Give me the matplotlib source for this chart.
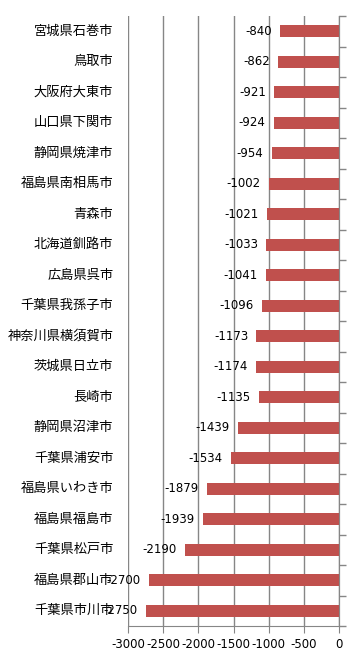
import matplotlib
matplotlib.use("Agg")
import matplotlib.pyplot as plt
import numpy as np

plt.rcParams['font.family'] = ['Noto Sans CJK JP', 'DejaVu Sans']

cities = ["宮城県石巻市", "鳥取市", "大阪府大東市", "山口県下関市", "静岡県焼津市",
          "福島県南相馬市", "青森市", "北海道釧路市", "広島県呉市", "千葉県我孫子市",
          "神奈川県横須賀市", "茨城県日立市", "長崎市", "静岡県沼津市", "千葉県浦安市",
          "福島県いわき市", "福島県福島市", "千葉県松戸市", "福島県郡山市", "千葉県市川市"]
values = [-840, -862, -921, -924, -954, -1002, -1021, -1033, -1041, -1096,
          -1173, -1174, -1135, -1439, -1534, -1879, -1939, -2190, -2700, -2750]
xticks = [-3000, -2500, -2000, -1500, -1000, -500, 0]

fig = plt.figure(figsize=(3.59, 6.6), dpi=100)
ax = fig.add_axes([128/359, 1-626/660, 211/359, 610/660])

n = len(cities)
y = np.arange(n)
bar_color = "#C0504D"
grid_color = "#868686"

ax.barh(y, values, height=0.4, color=bar_color, zorder=3)
ax.set_xlim(-3000, 0)
ax.set_ylim(n - 0.5, -0.5)
ax.set_xticks(xticks)
ax.set_xticklabels([str(t) for t in xticks], fontsize=8.5, family=['DejaVu Sans'])
ax.xaxis.grid(True, color=grid_color, linewidth=1, zorder=0)
ax.set_axisbelow(True)

for s in ['top', 'left']:
    ax.spines[s].set_visible(False)
ax.spines['bottom'].set_color(grid_color)
ax.spines['right'].set_color(grid_color)

ax.tick_params(axis='x', direction='out', length=5, color=grid_color, pad=4)

# category labels on left
ax.set_yticks([])
for i, c in enumerate(cities):
    ax.annotate(c, xy=(0, i), xycoords=('axes fraction', 'data'),
                xytext=(-10.5, 0), textcoords='offset points',
                ha='right', va='center', fontsize=9.5)

# right side ticks at category boundaries
ax2 = ax.twinx()
ax2.set_ylim(n - 0.5, -0.5)
ax2.set_yticks(np.arange(n + 1) - 0.5)
ax2.set_yticklabels([])
ax2.tick_params(axis='y', direction='out', length=5, color=grid_color, width=1)
for s in ['top', 'left', 'bottom']:
    ax2.spines[s].set_visible(False)
ax2.spines['right'].set_color(grid_color)

# data labels
for i, v in enumerate(values):
    ax.annotate(str(v), xy=(v, i), xytext=(-6, 0), textcoords='offset points',
                ha='right', va='center', fontsize=8.5, family=['DejaVu Sans'], zorder=4)

fig.savefig("out.png", dpi=100)
